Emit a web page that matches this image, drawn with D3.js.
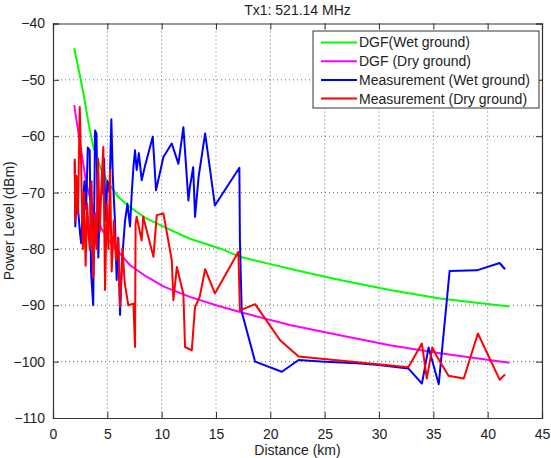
<!DOCTYPE html>
<html lang="en">

<head>
  <meta charset="UTF-8" />
  <title>Tx1: 521.14 MHz</title>
  <script src="https://d3js.org/d3.v7.min.js"></script>
  <style>
    body {
      margin: 0;
      background-color: #ffffff;
      font-family: "Liberation Sans", Arial, sans-serif;
    }

    .grid line {
      stroke: #444;
      stroke-dasharray: 1, 3;
      stroke-width: 0.8;
    }

    .series {
      fill: none;
      stroke-width: 2;
      stroke-linejoin: round;
    }
  </style>
</head>

<body>
  <div id="chart"></div>

  <script>
    // Valores: [distancia km, potencia dBm]
    const dgfWet = [
      [1.95, -44.4], [2.3, -47.6], [2.8, -52.4], [3.3, -58], [3.7, -61.8],
      [4.45, -66], [5, -68], [6, -70.8], [7.1, -72.6], [8.5, -74.5],
      [10.2, -76.1], [12.6, -78.2], [15.5, -80], [17.2, -81.4], [20, -82.7],
      [21.8, -83.5], [24, -84.5], [26.4, -85.5], [31, -87.3], [35.6, -88.8],
      [42, -90.2],
    ];

    const dgfDry = [
      [1.95, -54.5], [2.5, -61.4], [3.07, -68.4], [3.7, -73], [4.45, -76.4],
      [5.2, -78.6], [6, -80.5], [7.1, -82.9], [8.5, -84.8], [10.2, -86.7],
      [12.6, -88.5], [15, -90], [17.2, -91.2], [21.8, -93.5], [26.4, -95.3],
      [31, -97.1], [35.6, -98.5], [42, -100.2],
    ];

    const measWet = [
      [2.0, -64.5], [2.05, -76], [2.2, -70], [2.35, -74], [2.5, -77.5],
      [2.6, -79], [2.75, -72], [2.9, -68], [3.05, -73], [3.2, -62],
      [3.38, -62.5], [3.5, -84], [3.7, -90], [3.87, -59], [4.0, -59.5],
      [4.17, -81.5], [4.3, -72], [4.5, -70], [4.7, -64], [4.85, -75],
      [5.0, -68], [5.2, -70], [5.37, -57], [5.5, -67], [5.7, -75],
      [5.86, -85.5], [6.0, -78], [6.17, -91.7], [6.35, -82], [6.63, -75],
      [6.85, -72], [7.09, -76], [7.25, -70], [7.4, -65.5], [7.55, -62.5],
      [7.7, -66], [7.9, -63], [8.16, -67.8], [8.5, -65], [9.18, -60.1],
      [9.48, -69.6], [10.16, -63.7], [10.93, -61.3], [11.54, -64.9], [12.0, -58.4],
      [12.46, -71.4], [12.6, -69], [12.9, -65.5], [13.07, -74.3], [13.4, -67.2],
      [14.0, -59.5], [14.9, -72.3], [17.15, -65.6], [17.2, -78.5], [17.37, -91.2],
      [18.6, -100], [21.06, -101.8], [22.6, -99.7], [25, -100], [28, -100.3],
      [30, -100.6], [32.7, -101.2], [33.95, -103.9], [34.56, -97.5], [35.5, -104],
      [36.5, -83.9], [39, -83.8], [41.1, -82.5], [41.6, -83.6],
    ];

    const measDry = [
      [2.0, -64], [2.05, -75], [2.15, -67], [2.3, -73.7], [2.46, -54.8],
      [2.6, -66], [2.75, -80], [2.85, -70], [3.0, -83], [3.15, -72],
      [3.3, -78], [3.4, -80.2], [3.55, -68], [3.71, -85.2], [3.85, -74],
      [4.0, -80], [4.15, -64], [4.3, -77], [4.45, -69], [4.63, -61.9],
      [4.79, -87.3], [4.95, -72], [5.1, -80], [5.25, -66], [5.4, -84],
      [5.6, -75], [5.8, -82], [6.0, -78], [6.17, -90.3], [6.4, -80],
      [6.6, -86], [6.93, -90], [7.4, -89.7], [7.55, -97.4], [7.6, -75.5],
      [7.7, -74.3], [8.16, -78.5], [8.3, -74.3], [9.24, -81.4], [9.55, -74],
      [10.16, -73.7], [10.93, -82], [11.08, -89.1], [11.4, -83.2], [12.0, -88],
      [12.15, -97.4], [12.77, -98], [13.07, -90.3], [13.5, -88.5], [14.0, -83.6],
      [14.9, -87.9], [17.06, -80.5], [17.2, -90.9], [18.6, -89.8], [20.9, -96.2],
      [22.6, -99.1], [32.7, -101], [33.95, -96.8], [34.4, -103], [34.9, -97.5],
      [35.3, -99], [36.4, -102.5], [37.8, -103], [39.1, -95], [41.1, -103.2],
      [41.6, -102.3],
    ];

    const xTicks = [0, 5, 10, 15, 20, 25, 30, 35, 40, 45];
    const yTicks = [-40, -50, -60, -70, -80, -90, -100, -110];

    const seriesNames = [
      "DGF(Wet ground)",
      "DGF (Dry ground)",
      "Measurement (Wet ground)",
      "Measurement (Dry ground)",
    ];
    const seriesColors = ["#00ff00", "#ff00ff", "#0000ff", "#ff0000"];
    const seriesData = [dgfWet, dgfDry, measWet, measDry];

    const margin = { top: 23.5, right: 9, bottom: 40, left: 53 };
    const width = 551 - margin.left - margin.right;
    const height = 458 - margin.top - margin.bottom;

    const x = d3.scaleLinear().domain([0, 45]).range([0, width]);
    const y = d3.scaleLinear().domain([-110, -40]).range([height, 0]);

    const root = d3
      .select("#chart")
      .append("svg")
      .attr("width", 551)
      .attr("height", 458)
      .style("display", "block");

    const svg = root
      .append("g")
      .attr("transform", `translate(${margin.left},${margin.top})`);

    // rejilla punteada
    svg
      .append("g")
      .attr("class", "grid")
      .selectAll("line")
      .data(xTicks.slice(1, -1))
      .enter()
      .append("line")
      .attr("x1", (d) => x(d))
      .attr("x2", (d) => x(d))
      .attr("y1", 0)
      .attr("y2", height);

    svg
      .append("g")
      .attr("class", "grid")
      .selectAll("line")
      .data(yTicks.slice(1, -1))
      .enter()
      .append("line")
      .attr("x1", 0)
      .attr("x2", width)
      .attr("y1", (d) => y(d))
      .attr("y2", (d) => y(d));

    // series
    const line = d3
      .line()
      .x((d) => x(d[0]))
      .y((d) => y(d[1]));

    seriesData.forEach((data, i) => {
      svg
        .append("path")
        .datum(data)
        .attr("class", "series")
        .attr("stroke", seriesColors[i])
        .attr("d", line);
    });

    // ejes (caja estilo MATLAB, marcas hacia dentro)
    const styleAxis = (g) => {
      g.select(".domain").attr("stroke", "#333").attr("stroke-width", 1.2);
      g.selectAll(".tick line").attr("stroke", "#333");
      g.selectAll("text")
        .attr("fill", "#222")
        .style("font-size", "14px")
        .style("font-family", '"Liberation Sans", Arial, sans-serif');
    };

    svg
      .append("g")
      .attr("transform", `translate(0,${height})`)
      .call(d3.axisBottom(x).tickValues(xTicks).tickSize(-6).tickPadding(11))
      .call(styleAxis);

    svg
      .append("g")
      .call(d3.axisLeft(y).tickValues(yTicks).tickSize(-6).tickPadding(8))
      .call(styleAxis);

    svg
      .append("g")
      .call(d3.axisTop(x).tickValues(xTicks).tickSize(-6).tickFormat(""))
      .call(styleAxis);

    svg
      .append("g")
      .attr("transform", `translate(${width},0)`)
      .call(d3.axisRight(y).tickValues(yTicks).tickSize(-6).tickFormat(""))
      .call(styleAxis);

    // textos
    svg
      .append("text")
      .attr("x", width / 2)
      .attr("y", -9)
      .attr("text-anchor", "middle")
      .style("font-size", "14px")
      .attr("fill", "#222")
      .text("Tx1: 521.14 MHz");

    svg
      .append("text")
      .attr("x", width / 2)
      .attr("y", height + 37)
      .attr("text-anchor", "middle")
      .style("font-size", "14px")
      .attr("fill", "#222")
      .text("Distance (km)");

    svg
      .append("text")
      .attr("transform", `translate(${-39},${height / 2}) rotate(-90)`)
      .attr("text-anchor", "middle")
      .style("font-size", "14px")
      .attr("fill", "#222")
      .text("Power Level (dBm)");

    // leyenda
    const legend = svg
      .append("g")
      .attr("transform", `translate(${313 - margin.left},${31 - margin.top})`);

    legend
      .append("rect")
      .attr("width", 226)
      .attr("height", 77)
      .attr("fill", "#fff")
      .attr("stroke", "#333");

    seriesNames.forEach((name, i) => {
      const row = legend
        .append("g")
        .attr("transform", `translate(0,${11.5 + i * 18.7})`);
      row
        .append("line")
        .attr("x1", 8)
        .attr("x2", 44)
        .attr("stroke", seriesColors[i])
        .attr("stroke-width", 2);
      row
        .append("text")
        .attr("x", 46)
        .attr("dy", "0.35em")
        .style("font-size", "14px")
        .attr("fill", "#222")
        .text(name);
    });
  </script>
</body>

</html>
